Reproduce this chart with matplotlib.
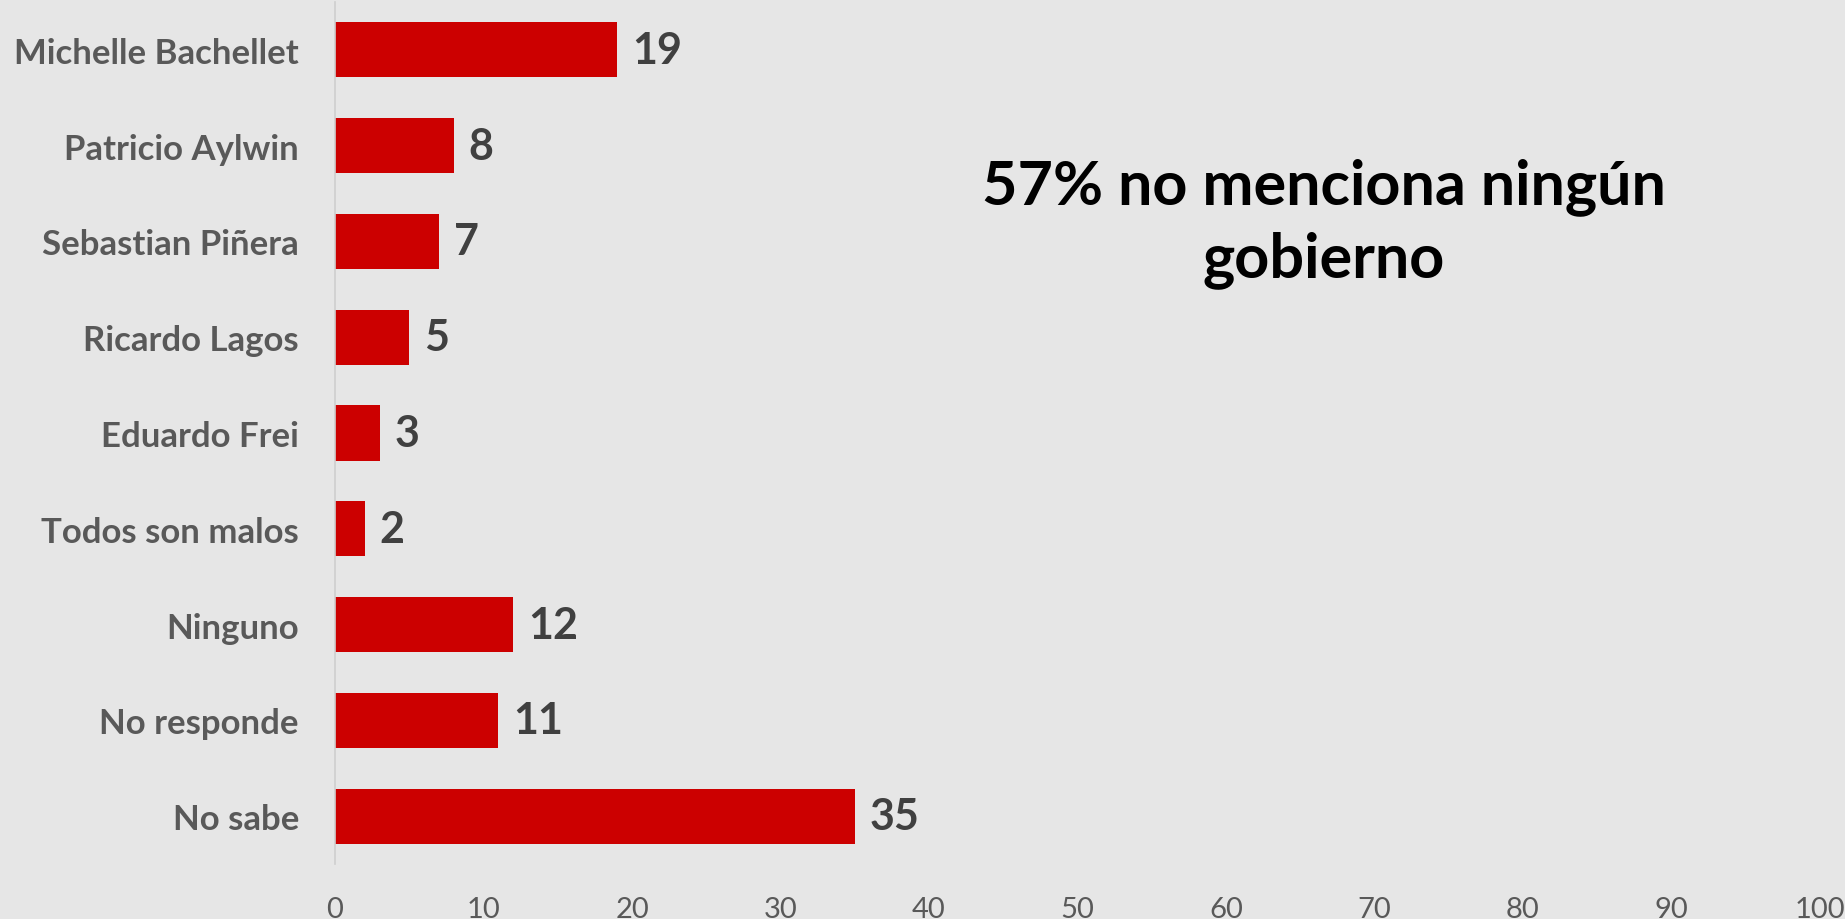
import matplotlib
matplotlib.use("Agg")
import matplotlib.pyplot as plt

# data
categories = ["Michelle Bachellet", "Patricio Aylwin", "Sebastian Piñera",
              "Ricardo Lagos", "Eduardo Frei", "Todos son malos",
              "Ninguno", "No responde", "No sabe"]
values = [19, 8, 7, 5, 3, 2, 12, 11, 35]
xticks = [0, 10, 20, 30, 40, 50, 60, 70, 80, 90, 100]
note = "57% no menciona ningún\ngobierno"

plt.rcParams['font.family'] = ['Lato', 'DejaVu Sans']

bg = '#e6e6e6'
fig = plt.figure(figsize=(18.45, 9.20), dpi=100, facecolor=bg)
ax = fig.add_axes([0.1816, 0.0598, 0.8048, 0.9369])
ax.set_facecolor(bg)

ypos = list(range(len(categories)))
ax.barh(ypos, values, height=0.575, color='#cc0000', edgecolor='none')
ax.set_ylim(len(categories) - 0.5, -0.5)
ax.set_xlim(0, 100)

for y, v in zip(ypos, values):
    ax.text(v + 1.0, y, str(v), va='center', ha='left', fontsize=31,
            fontweight='bold', color='#404040')

ax.set_yticks(ypos)
ax.set_yticklabels(categories, fontsize=25, fontweight='bold', color='#595959')
ax.set_xticks(xticks)
ax.set_xticklabels([str(t) for t in xticks], fontsize=21, color='#595959')
ax.tick_params(axis='y', length=0, pad=26)
ax.tick_params(axis='x', length=0, pad=23)

for s in ['top', 'right', 'bottom']:
    ax.spines[s].set_visible(False)
ax.spines['left'].set_color('#cfcfcf')
ax.spines['left'].set_linewidth(1.2)

fig.text(0.7176, 0.757, note, ha='center', va='center', fontsize=44,
         fontweight='bold', color='black', linespacing=1.35)

fig.savefig("out.png", dpi=100, facecolor=bg)
